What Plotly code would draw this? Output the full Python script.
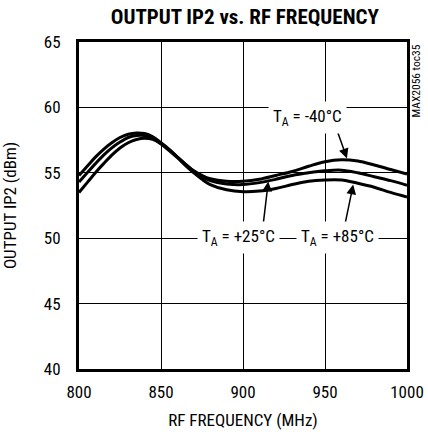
import plotly.graph_objects as go

freq = [800, 805, 810, 815, 820, 825, 830, 835, 840, 845, 850, 855, 860, 865, 870, 875,
        880, 890, 900, 910, 920, 930, 940, 950, 960, 970, 980, 990, 1000]
ip2_m40 = [54.8, 55.5, 56.2, 56.8, 57.3, 57.7, 57.95, 58.05, 58.0, 57.75, 57.3, 56.8, 56.2, 55.65, 55.15, 54.8,
           54.55, 54.35, 54.35, 54.5, 54.8, 55.1, 55.5, 55.85, 56.0, 55.9, 55.6, 55.25, 54.9]
ip2_p25 = [54.3, 55.0, 55.7, 56.35, 56.9, 57.35, 57.7, 57.85, 57.85, 57.65, 57.25, 56.75, 56.2, 55.65, 55.1, 54.7,
           54.4, 54.15, 54.1, 54.25, 54.5, 54.8, 55.0, 55.15, 55.2, 55.0, 54.7, 54.4, 54.05]
ip2_p85 = [53.5, 54.25, 55.0, 55.7, 56.35, 56.9, 57.3, 57.55, 57.65, 57.55, 57.2, 56.7, 56.15, 55.55, 55.0, 54.5,
           54.1, 53.7, 53.55, 53.6, 53.8, 54.1, 54.35, 54.45, 54.45, 54.2, 53.9, 53.5, 53.15]

x_ticks = [800, 850, 900, 950, 1000]
y_ticks = [40, 45, 50, 55, 60, 65]

labels = ["T<sub>A</sub> = -40°C", "T<sub>A</sub> = +25°C", "T<sub>A</sub> = +85°C"]
label_pos = [(939.6, 59.25), (897.5, 50.05), (957.8, 50.05)]
arrow_tips = [(963.4, 56.1), (915.4, 54.33), (967.2, 54.1)]
arrow_offsets = [(-10.6, -30), (-5.5, 46.5), (-8.5, 41)]

FONT = "Roboto Condensed, sans-serif"

fig = go.Figure()
for ys in (ip2_m40, ip2_p25, ip2_p85):
    fig.add_trace(go.Scatter(x=freq, y=ys, mode="lines",
                             line=dict(color="black", width=3, shape="spline"),
                             showlegend=False, hoverinfo="skip"))

annotations = []
for (tx, ty), (ax, ay) in zip(arrow_tips, arrow_offsets):
    annotations.append(dict(x=tx, y=ty, xref="x", yref="y", ax=ax, ay=ay,
                            text=" ", showarrow=True, arrowhead=2, arrowsize=1.3,
                            arrowwidth=1.5, arrowcolor="black", standoff=0,
                            font=dict(size=1)))
for txt, (lx, ly) in zip(labels, label_pos):
    annotations.append(dict(x=lx, y=ly, xref="x", yref="y", text=txt, showarrow=False,
                            bgcolor="white", borderpad=4,
                            font=dict(family=FONT, size=17, color="black")))
annotations.append(dict(x=1.0274, xref="paper", xanchor="center",
                        y=1.0, yref="paper", yanchor="top",
                        text="MAX2056 toc35", textangle=-90, showarrow=False,
                        font=dict(family=FONT, size=11.5, color="black")))

fig.update_layout(
    width=428, height=432,
    margin=dict(l=79, r=21, t=42, b=63),
    paper_bgcolor="white", plot_bgcolor="white",
    font=dict(family=FONT, size=17, color="black"),
    title=dict(text="<b>OUTPUT IP2 vs. RF FREQUENCY</b>", x=0.572, xanchor="center",
               y=0.962, yanchor="middle",
               font=dict(family=FONT, size=21, color="black")),
    annotations=annotations,
    xaxis=dict(range=[800, 1000], tickvals=x_ticks, showgrid=True, gridcolor="black",
               gridwidth=1, showline=True, linecolor="black", linewidth=3, mirror=True,
               ticks="outside", ticklen=6, tickcolor="rgba(0,0,0,0)", zeroline=False,
               automargin=False,
               title=dict(text="RF FREQUENCY (MHz)", standoff=13,
                          font=dict(family=FONT, size=17))),
    yaxis=dict(range=[40, 65], tickvals=y_ticks, showgrid=True, gridcolor="black",
               gridwidth=1, showline=True, linecolor="black", linewidth=3, mirror=True,
               ticks="outside", ticklen=12, tickcolor="rgba(0,0,0,0)", zeroline=False,
               automargin=False,
               title=dict(text="OUTPUT IP2 (dBm)", standoff=23,
                          font=dict(family=FONT, size=17))),
)

fig.write_html("out.html", config={"displayModeBar": False},
               post_script="document.body.style.margin='0';document.body.style.overflow='hidden';")
